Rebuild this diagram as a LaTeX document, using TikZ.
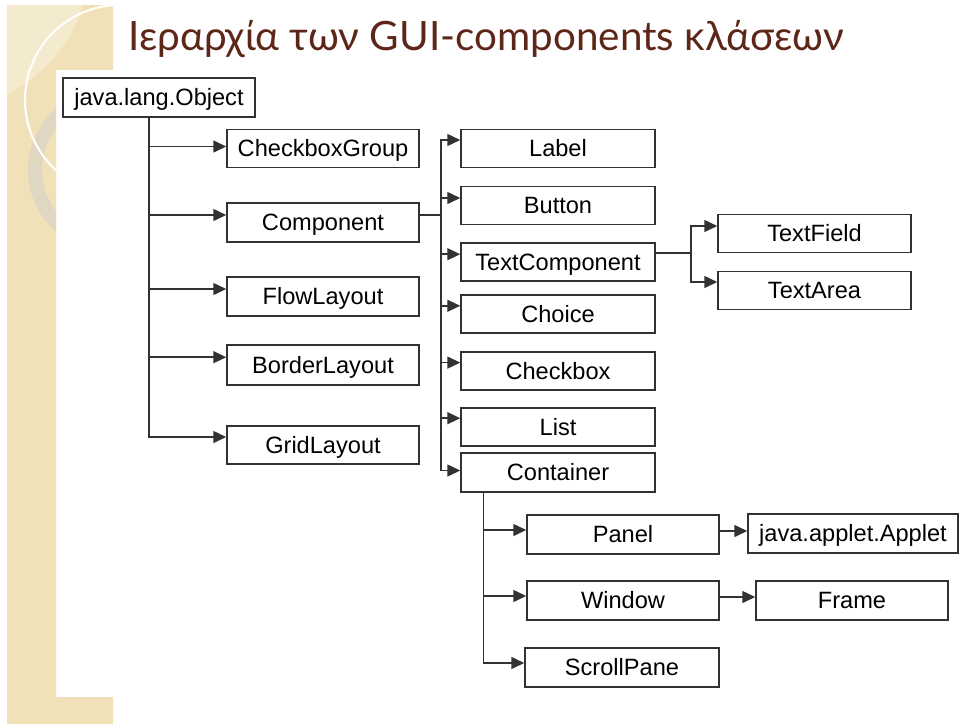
\documentclass[tikz,border=0pt]{standalone}
\usepackage{fontspec}
\setmainfont{Liberation Sans}
\newfontfamily\titlefont{Lato}
\usetikzlibrary{arrows.meta}

\definecolor{sand}{RGB}{240,225,184}
\definecolor{ringcol}{RGB}{224,215,194}
\definecolor{titlebrown}{RGB}{94,38,24}
\definecolor{edge}{RGB}{50,50,50}

\tikzset{
  cls/.style={draw=edge, line width=0.75pt, minimum width=96pt, minimum height=19pt,
    inner sep=0pt, text height=8.4pt, text depth=0pt,
    font=\fontsize{11.8}{13}\selectfont},
  inh/.style={draw=edge, line width=0.75pt, -{Triangle[length=6.5pt,width=6pt]}},
}

\begin{document}
\begin{tikzpicture}[x=0.5pt,y=-0.5pt]
    \useasboundingbox (0,0) rectangle (959,724);
    \fill[white] (0,0) rectangle (959,724);

    % sand strip with the rings
    \fill[sand] (7,5) -- (113,5) -- (113,70) -- (56,70) -- (56,697)
        -- (113,697) -- (113,724) -- (7,724) -- cycle;
    \begin{scope}
        \clip (7,5) rectangle (56,724) (56,5) rectangle (113,70);
        \fill[white,opacity=0.3] (-60,-40) circle[radius=75pt];
        \draw[ringcol,line width=7pt] (110,170) circle[radius=37.5pt];
        \draw[white,line width=1pt] (120,100) circle[radius=47.5pt];
    \end{scope}

    % title
    \node[anchor=base west, inner sep=0pt, text=titlebrown,
        font=\titlefont\fontsize{20.2}{23}\selectfont] (title) at (128,50)
        {Ιεραρχία των GUI-components κλάσεων};

    % classes
    \node[cls, minimum height=19.5pt] (obj) at (159,97.5) {java.lang.Object};

    \node[cls] (cbg) at (323,148.5) {CheckboxGroup};
    \node[cls, minimum height=19.5pt] (comp) at (323,222.5) {Component};
    \node[cls, minimum height=19.5pt] (flow) at (323,296.5) {FlowLayout};
    \node[cls, minimum height=20pt] (border) at (323,365) {BorderLayout};
    \node[cls] (grid) at (323,445) {GridLayout};

    \node[cls, minimum width=97pt] (label) at (558,148.5) {Label};
    \node[cls, minimum width=97pt] (button) at (558,205.5) {Button};
    \node[cls, minimum width=97pt] (textcomp) at (558,262) {TextComponent};
    \node[cls, minimum width=97pt] (choice) at (558,314) {Choice};
    \node[cls, minimum width=97pt] (checkbox) at (558,371) {Checkbox};
    \node[cls, minimum width=97pt] (list) at (558,427) {List};
    \node[cls, minimum width=97pt, minimum height=19.5pt] (container) at (558,472.5) {Container};

    \node[cls, minimum width=96.5pt] (textfield) at (814.5,233.5) {TextField};
    \node[cls, minimum width=96.5pt] (textarea) at (814.5,290.5) {TextArea};

    \node[cls, minimum height=19.5pt] (panel) at (623,534.5) {Panel};
    \node[cls, minimum width=105pt, minimum height=19.5pt] (applet) at (853,533.5) {java.applet.Applet};
    \node[cls, minimum height=19.5pt] (window) at (623,600.5) {Window};
    \node[cls, minimum height=19.5pt] (frame) at (852,600.5) {Frame};
    \node[cls, minimum width=97pt, minimum height=19.5pt] (scroll) at (622,667.5) {ScrollPane};

    % inheritance lines
    \foreach \n/\d in {cbg/1pt, comp/3.75pt, flow/3.75pt, border/3.9pt, grid/4pt}
        \draw[inh] ([xshift=-5pt]obj.south) |- ([yshift=\d]\n.west);

    \foreach \n/\d in {label/4.25pt, button/3.75pt, textcomp/3.9pt, choice/4.1pt,
                       checkbox/4.2pt, list/4.4pt, container/1pt}
        \draw[inh] ([yshift=3.75pt]comp.east) -- ++(10.5pt,0) |- ([yshift=\d]\n.west);

    \foreach \n/\d in {textfield/3.75pt, textarea/4.25pt}
        \draw[inh] ([yshift=4.5pt]textcomp.east) -- ++(17.5pt,0) |- ([yshift=\d]\n.west);

    \foreach \n in {panel, window, scroll}
        \draw[inh] ([xshift=-37.25pt]container.south) |- ([yshift=2.25pt]\n.west);

    \draw[inh] ([yshift=1.75pt]panel.east) -- ([yshift=1.75pt]panel.east -| applet.west);
    \draw[inh] ([yshift=1.75pt]window.east) -- ([yshift=1.75pt]window.east -| frame.west);
\end{tikzpicture}
\end{document}
